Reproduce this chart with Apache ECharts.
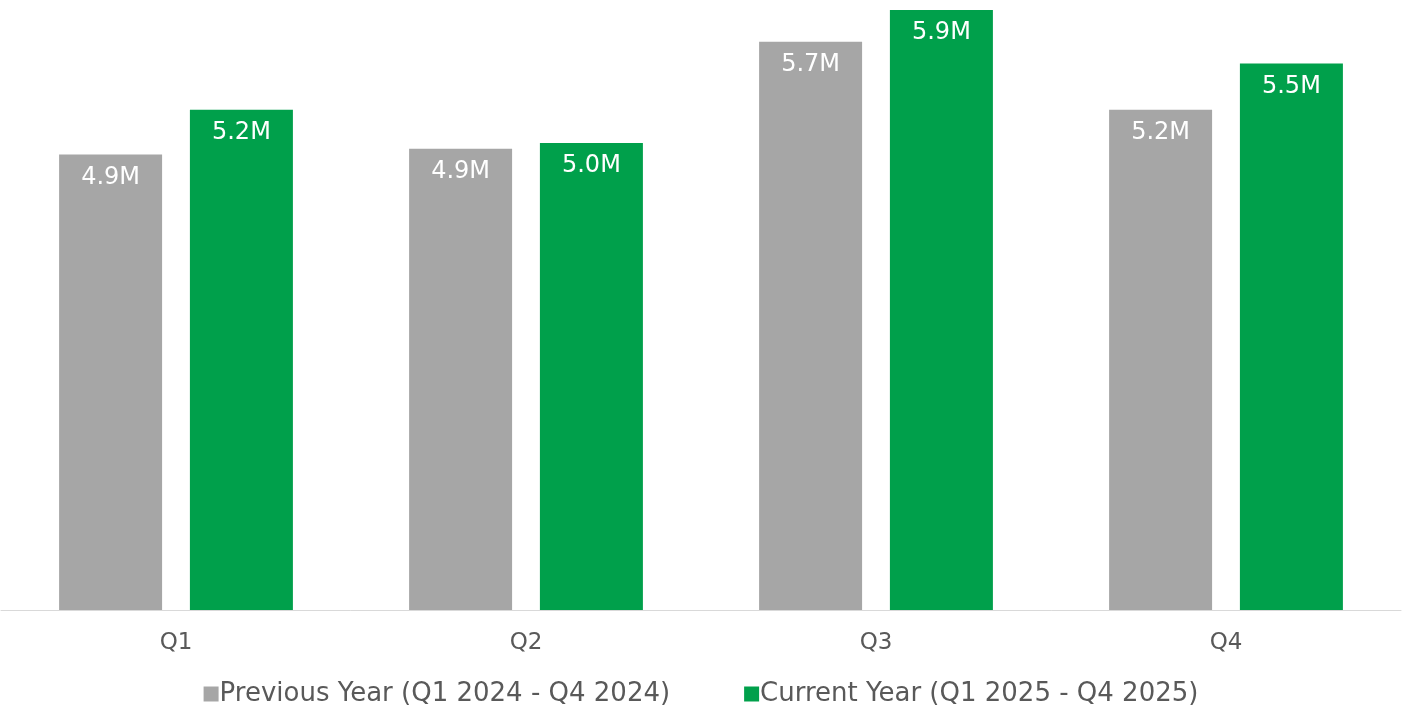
<!DOCTYPE html>
<html><head><meta charset="utf-8">
<script src="https://cdn.jsdelivr.net/npm/echarts@6/dist/echarts.min.js"></script>
<style>html,body{margin:0;padding:0;background:#fff}#c{width:1402px;height:720px}</style>
</head><body><div id="c"></div>
<script>
const categories = ['Q1', 'Q2', 'Q3', 'Q4'];
const previousYear = [4.90, 4.94, 5.68, 5.21];
const currentYear = [5.21, 4.98, 5.90, 5.53];
const seriesNames = ['Previous Year (Q1 2024 - Q4 2024)', 'Current Year (Q1 2025 - Q4 2025)'];
const FONT = '"DejaVu Sans", "Noto Sans", sans-serif';
const chart = echarts.init(document.getElementById('c'));
const lbl = {
  show: true, position: 'insideTop', distance: 11, color: '#fff',
  fontSize: 24, fontFamily: FONT,
  formatter: p => p.value.toFixed(1) + 'M'
};
chart.setOption({
  animation: false,
  grid: { left: 1, right: 1, top: 10, bottom: 110, containLabel: false },
  legend: {
    bottom: 8, left: 'center', itemWidth: 15, itemHeight: 15, itemGap: 74,
    icon: 'rect',
    textStyle: { color: '#595959', fontSize: 26, fontFamily: FONT, padding: [0, 0, 0, -4] },
    data: seriesNames
  },
  xAxis: {
    type: 'category', data: categories,
    axisLine: { lineStyle: { color: '#d9d9d9', width: 1 } },
    axisTick: { show: false },
    axisLabel: { color: '#595959', fontSize: 23, fontFamily: FONT, margin: 22 }
  },
  yAxis: { type: 'value', min: 1.75, max: 5.9, show: false, splitLine: { show: false } },
  series: [
    { name: seriesNames[0], type: 'bar', data: previousYear, barWidth: 103, barGap: '27%',
      itemStyle: { color: '#a6a6a6' }, label: lbl },
    { name: seriesNames[1], type: 'bar', data: currentYear, barWidth: 103, barGap: '27%',
      itemStyle: { color: '#00a04b' }, label: lbl }
  ]
});
</script></body></html>
